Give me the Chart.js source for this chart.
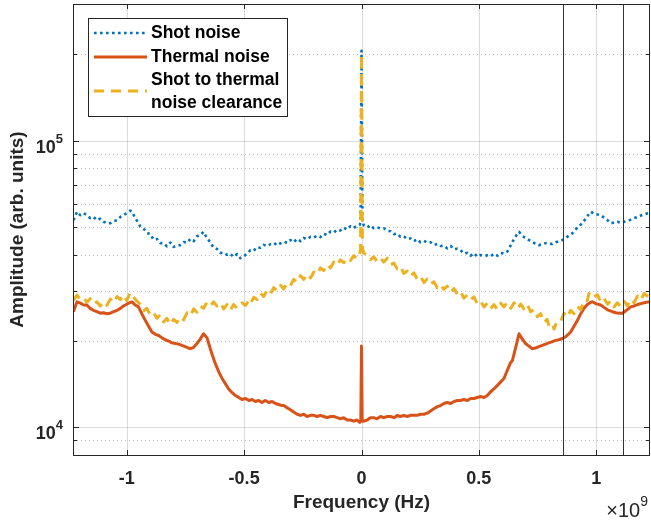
<!DOCTYPE html>
<html>
<head>
<meta charset="utf-8">
<script src="https://cdn.jsdelivr.net/npm/chart.js@4/dist/chart.umd.min.js"></script>
<style>
  body { margin: 0; background: #fff; }
  canvas { display: block; }
</style>
</head>
<body>
<canvas id="chart" width="651" height="523"></canvas>
<script>
// frequencies in units of 1e9 Hz, amplitudes in arb. units
const shotFreq = [-1.227,-1.212,-1.198,-1.184,-1.170,-1.156,-1.142,-1.127,-1.113,-1.099,-1.085,-1.070,-1.056,-1.041,-1.027,-1.014,-0.999,-0.985,-0.978,-0.964,
  -0.950,-0.942,-0.928,-0.914,-0.900,-0.886,-0.871,-0.857,-0.843,-0.829,-0.814,-0.800,-0.786,-0.772,-0.757,-0.743,-0.729,-0.715,-0.701,-0.687,
  -0.673,-0.658,-0.644,-0.630,-0.616,-0.601,-0.587,-0.573,-0.559,-0.545,-0.530,-0.516,-0.502,-0.487,-0.473,-0.459,-0.445,-0.431,-0.417,-0.402,
  -0.388,-0.374,-0.359,-0.345,-0.331,-0.317,-0.303,-0.289,-0.275,-0.260,-0.246,-0.232,-0.217,-0.203,-0.189,-0.175,-0.161,-0.146,-0.132,-0.118,
  -0.104,-0.090,-0.076,-0.061,-0.047,-0.033,-0.019,-0.008,-0.004,0,0.004,0.010,0.024,0.038,0.052,0.066,0.081,0.095,0.110,0.124,
  0.138,0.152,0.166,0.180,0.195,0.209,0.223,0.237,0.251,0.266,0.280,0.294,0.308,0.323,0.337,0.351,0.365,0.380,0.394,0.408,
  0.422,0.436,0.451,0.465,0.479,0.493,0.507,0.522,0.536,0.550,0.564,0.579,0.593,0.607,0.621,0.635,0.650,0.664,0.671,0.685,
  0.699,0.713,0.727,0.741,0.755,0.770,0.784,0.798,0.813,0.827,0.841,0.856,0.870,0.884,0.898,0.912,0.926,0.941,0.955,0.969,
  0.977,0.991,1.005,1.019,1.033,1.048,1.062,1.076,1.090,1.105,1.119,1.133,1.147,1.161,1.176,1.190,1.204,1.225];
const shotAmp = [52800,56500,55000,55900,55000,53700,54200,52800,53400,52100,51600,51500,52400,52800,54200,55000,55900,57000,56500,53700,
  51600,50100,49300,47600,47300,45200,45400,43900,43900,42800,44100,42600,43100,43200,44300,44100,45400,44600,46400,46800,
  48100,45700,44200,42300,41900,40600,40700,40000,40300,39300,40200,38900,39400,40400,41500,41300,42500,42300,43300,42900,
  43500,43200,44300,43800,44400,44000,45000,44200,45400,44600,45800,45300,46200,45900,46600,46100,47300,46900,48200,47800,
  48900,48600,49700,49000,50300,49600,50500,50800,52000,206000,52000,50600,49800,50700,49500,49900,49400,49500,48500,48300,
  47200,47400,46200,46400,45400,45600,44600,45300,44200,44700,44100,44200,43300,43600,42900,43000,42100,42900,41800,42000,
  41500,40400,40600,39700,40500,39400,39900,39600,39800,39500,40300,39700,40600,40400,41000,43000,45500,47300,48100,46500,
  45800,45000,44500,43600,43200,43500,43900,43800,43600,44200,44600,45000,45700,46700,47500,49000,50300,51500,53500,55500,
  56500,55500,55300,55000,53900,52800,51500,51800,52100,51700,52100,52600,53000,53700,54200,54800,55400,55900];

const thermalFreq = [-1.227,-1.212,-1.198,-1.184,-1.170,-1.156,-1.142,-1.127,-1.113,-1.099,-1.085,-1.070,-1.056,-1.041,-1.027,-1.014,-1.006,-0.992,-0.978,-0.964,
  -0.950,-0.935,-0.921,-0.907,-0.893,-0.878,-0.864,-0.850,-0.836,-0.822,-0.808,-0.793,-0.779,-0.765,-0.751,-0.737,-0.729,-0.715,-0.701,-0.687,
  -0.673,-0.658,-0.651,-0.637,-0.623,-0.608,-0.594,-0.580,-0.566,-0.551,-0.537,-0.523,-0.509,-0.494,-0.480,-0.466,-0.452,-0.438,-0.424,-0.410,
  -0.395,-0.381,-0.367,-0.353,-0.338,-0.331,-0.317,-0.303,-0.289,-0.274,-0.260,-0.246,-0.232,-0.217,-0.203,-0.189,-0.175,-0.161,-0.146,-0.132,
  -0.118,-0.104,-0.090,-0.076,-0.061,-0.047,-0.033,-0.019,-0.008,-0.003,0,0.003,0.010,0.024,0.038,0.052,0.066,0.081,0.095,0.110,
  0.124,0.138,0.152,0.166,0.180,0.195,0.209,0.223,0.237,0.251,0.266,0.280,0.294,0.308,0.323,0.337,0.351,0.365,0.380,0.394,
  0.408,0.422,0.436,0.451,0.465,0.479,0.493,0.507,0.522,0.536,0.550,0.564,0.579,0.593,0.607,0.621,0.635,0.643,0.657,0.671,
  0.685,0.699,0.713,0.727,0.741,0.755,0.770,0.784,0.798,0.813,0.827,0.841,0.856,0.870,0.884,0.891,0.905,0.920,0.934,0.948,
  0.962,0.977,0.984,0.998,1.019,1.033,1.048,1.069,1.083,1.098,1.112,1.126,1.147,1.161,1.176,1.190,1.204,1.225];
const thermalAmp = [25300,27400,27100,26700,26700,26000,25600,25300,25000,25100,24900,25000,25300,25600,26000,26500,26700,27100,27400,26700,
  26300,24800,23600,22500,21500,21100,20900,20500,20200,20000,19700,19600,19500,19300,19100,18900,18800,19000,19600,20300,
  21200,20500,19600,18000,16700,15600,14800,14200,13600,13200,12900,12700,12500,12600,12400,12500,12300,12400,12200,12400,
  12200,12300,12100,12000,11900,11900,11700,11500,11300,11100,11000,11100,10900,11000,11000,10900,11000,10900,10800,10900,
  10900,10800,10700,10800,10600,10600,10500,10600,10400,10500,19200,10500,10500,10600,10800,10800,10700,10900,10800,10900,
  10900,10800,11000,10900,11000,10900,11000,11000,11000,11100,11100,11200,11400,11600,11800,11900,12100,12200,12100,12300,
  12400,12400,12500,12400,12600,12600,12700,12800,12700,12900,13300,13600,14000,14400,14800,15800,16800,17100,19000,21200,
  20300,19600,19200,18800,18900,19100,19300,19500,19700,19900,20100,20200,20400,20700,21200,21500,22500,23600,24900,26000,
  26800,27300,27400,27000,26700,26200,25700,25300,25100,25000,25000,25500,26300,26500,26800,27000,27200,27400];

const clearFreq = [-1.227,-1.212,-1.198,-1.184,-1.170,-1.156,-1.142,-1.127,-1.113,-1.099,-1.085,-1.070,-1.056,-1.041,-1.027,-1.014,-1.000,-0.985,-0.971,-0.957,
  -0.942,-0.928,-0.914,-0.900,-0.886,-0.871,-0.857,-0.843,-0.829,-0.814,-0.800,-0.786,-0.772,-0.758,-0.743,-0.729,-0.715,-0.701,-0.687,-0.673,
  -0.658,-0.644,-0.630,-0.616,-0.601,-0.587,-0.573,-0.559,-0.545,-0.530,-0.509,-0.494,-0.480,-0.473,-0.459,-0.445,-0.431,-0.417,-0.402,-0.388,
  -0.374,-0.359,-0.345,-0.331,-0.317,-0.303,-0.289,-0.274,-0.260,-0.246,-0.232,-0.217,-0.203,-0.189,-0.175,-0.161,-0.146,-0.132,-0.118,-0.104,
  -0.090,-0.076,-0.061,-0.047,-0.033,-0.019,-0.008,-0.004,0,0.004,0.010,0.024,0.038,0.052,0.066,0.081,0.095,0.110,0.124,0.138,
  0.152,0.166,0.180,0.195,0.209,0.223,0.237,0.251,0.266,0.280,0.294,0.308,0.323,0.337,0.351,0.365,0.380,0.394,0.408,0.422,
  0.436,0.451,0.465,0.479,0.493,0.507,0.522,0.536,0.550,0.564,0.579,0.593,0.607,0.621,0.636,0.650,0.664,0.678,0.692,0.706,
  0.720,0.735,0.749,0.763,0.777,0.791,0.799,0.813,0.820,0.834,0.849,0.863,0.877,0.891,0.905,0.920,0.934,0.948,0.962,0.969,
  0.983,1.005,1.019,1.033,1.048,1.062,1.076,1.090,1.105,1.119,1.133,1.147,1.161,1.176,1.190,1.204,1.225];
const clearAmp = [27800,28900,27900,28300,27300,28100,26900,27400,26500,27400,26600,28000,27200,28600,27900,29000,27700,29500,28400,27600,
  26800,25500,26000,24600,25100,24000,24700,23300,24000,22800,23800,23200,24300,23700,25100,24500,25900,25200,26500,26000,
  27300,26500,27400,26500,27200,25900,26800,25600,26800,26000,27200,26600,27700,27000,28400,27900,29400,28600,30100,29200,
  30700,29900,31300,30400,31900,31200,32800,32000,33800,32800,34300,33200,34800,34100,36000,35200,37000,36000,37700,36700,
  38400,37500,39000,38200,39700,38700,39800,42000,200000,42000,40500,39900,38400,39400,37900,39000,37700,38900,36900,37400,
  35700,36400,34400,35100,33600,34600,32900,33700,32000,32900,31600,32200,30700,31500,30300,31100,29500,30500,29100,29800,
  28200,29000,27900,28500,27000,27600,26300,27100,25900,26800,25800,27100,26300,27300,26000,27200,25900,26900,25900,26900,
  25300,25800,24300,24900,23200,23800,22500,23000,22000,23600,23500,25000,24200,25600,24900,26400,25700,27900,27700,29300,
  28200,29000,27400,28200,26900,27600,26300,27200,26300,27500,26500,28000,27200,28700,27800,29300,28400];

const xTicks = [-1, -0.5, 0, 0.5, 1];
const yMajor = [1e4, 1e5];
const yMinor = [9000, 20000, 30000, 40000, 50000, 60000, 70000, 80000, 90000, 200000];
const markerLines = [0.858, 1.113];
const seriesNames = ['Shot noise', 'Thermal noise', ['Shot to thermal', 'noise clearance']];

const AX = '#262626';
const FONT = '"Liberation Sans", Arial, Helvetica, sans-serif';

function pts(fx, fy) {
  return fx.map((f, i) => ({ x: f, y: fy[i] }));
}

const matlabAxes = {
  id: 'matlabAxes',
  beforeDatasetsDraw(chart) {
    const { ctx, chartArea: a, scales: { x, y } } = chart;
    ctx.save();
    ctx.lineWidth = 1;
    // major grid
    ctx.strokeStyle = 'rgba(0,0,0,0.14)';
    ctx.setLineDash([]);
    xTicks.forEach(v => {
      const px = Math.round(x.getPixelForValue(v)) + 0.5;
      ctx.beginPath(); ctx.moveTo(px, a.top); ctx.lineTo(px, a.bottom); ctx.stroke();
    });
    yMajor.forEach(v => {
      const py = Math.round(y.getPixelForValue(v)) + 0.5;
      ctx.beginPath(); ctx.moveTo(a.left, py); ctx.lineTo(a.right, py); ctx.stroke();
    });
    // minor grid, dotted
    ctx.strokeStyle = 'rgba(0,0,0,0.25)';
    ctx.setLineDash([1, 3]);
    yMinor.forEach(v => {
      const py = Math.round(y.getPixelForValue(v)) + 0.5;
      ctx.beginPath(); ctx.moveTo(a.left, py); ctx.lineTo(a.right, py); ctx.stroke();
    });
    ctx.restore();
  },
  afterDatasetsDraw(chart) {
    const { ctx, chartArea: a, scales: { x, y } } = chart;
    ctx.save();
    // vertical marker lines
    ctx.strokeStyle = '#333';
    ctx.lineWidth = 1;
    markerLines.forEach(v => {
      const px = Math.round(x.getPixelForValue(v)) + 0.5;
      ctx.beginPath(); ctx.moveTo(px, a.top); ctx.lineTo(px, a.bottom); ctx.stroke();
    });
    // box
    ctx.strokeStyle = AX;
    ctx.strokeRect(Math.round(a.left) + 0.5, Math.round(a.top) + 0.5,
      Math.round(a.right - a.left) - 1, Math.round(a.bottom - a.top));
    // ticks
    ctx.beginPath();
    xTicks.forEach(v => {
      const px = Math.round(x.getPixelForValue(v)) + 0.5;
      ctx.moveTo(px, a.bottom); ctx.lineTo(px, a.bottom - 5);
      ctx.moveTo(px, a.top); ctx.lineTo(px, a.top + 5);
    });
    yMajor.concat(yMinor).forEach(v => {
      const py = Math.round(y.getPixelForValue(v)) + 0.5;
      const len = yMajor.includes(v) ? 6 : 4;
      ctx.moveTo(a.left, py); ctx.lineTo(a.left + len, py);
      ctx.moveTo(a.right, py); ctx.lineTo(a.right - len, py);
    });
    ctx.stroke();

    // y tick labels 10^n
    ctx.fillStyle = AX;
    yMajor.forEach(v => {
      const py = y.getPixelForValue(v);
      const exp = String(Math.round(Math.log10(v)));
      ctx.font = 'bold 13px ' + FONT;
      const ew = ctx.measureText(exp).width;
      ctx.textBaseline = 'alphabetic';
      ctx.textAlign = 'left';
      const ex = a.left - 10 - ew;
      ctx.fillText(exp, ex, py + 2);
      ctx.font = 'bold 18px ' + FONT;
      ctx.textAlign = 'right';
      ctx.fillText('10', ex, py + 12);
    });

    // x exponent label
    ctx.textAlign = 'right';
    ctx.textBaseline = 'alphabetic';
    ctx.font = '14px ' + FONT;
    const nw = ctx.measureText('9').width;
    ctx.fillText('9', a.right - 2, 506);
    ctx.font = '20px ' + FONT;
    ctx.fillText('\u00d710', a.right - 2 - nw, 517);

    // legend
    const lx = 88.5, ly = 18.5, lw = 199, lh = 98;
    ctx.fillStyle = '#fff';
    ctx.fillRect(lx, ly, lw, lh);
    ctx.strokeStyle = AX;
    ctx.lineWidth = 1;
    ctx.strokeRect(lx, ly, lw, lh);
    const sets = chart.data.datasets;
    const rows = [{ y: 33, ty: [33] }, { y: 57, ty: [57] }, { y: 91, ty: [80, 103] }];
    rows.forEach((r, i) => {
      const ds = sets[i];
      ctx.strokeStyle = ds.borderColor;
      ctx.lineWidth = ds.borderWidth;
      ctx.setLineDash(ds.borderDash || []);
      ctx.beginPath(); ctx.moveTo(94, r.y); ctx.lineTo(147, r.y); ctx.stroke();
      ctx.setLineDash([]);
      ctx.fillStyle = '#000';
      ctx.font = 'bold 17.5px ' + FONT;
      ctx.textAlign = 'left';
      ctx.textBaseline = 'middle';
      const lines = [].concat(seriesNames[i]);
      lines.forEach((t, k) => ctx.fillText(t, 151, r.ty[k]));
    });
    ctx.restore();
  }
};

new Chart(document.getElementById('chart').getContext('2d'), {
  type: 'line',
  data: {
    datasets: [
      { label: 'Shot noise', data: pts(shotFreq, shotAmp), borderColor: '#0072BD', borderWidth: 2.6,
        borderDash: [2.6, 3.4], order: 2 },
      { label: 'Thermal noise', data: pts(thermalFreq, thermalAmp), borderColor: '#D95319', borderWidth: 3,
        order: 1 },
      { label: 'Shot to thermal noise clearance', data: pts(clearFreq, clearAmp), borderColor: '#EDB120',
        borderWidth: 3, borderDash: [10, 7], order: 0 }
    ]
  },
  options: {
    responsive: false,
    animation: false,
    elements: { point: { radius: 0 }, line: { tension: 0, borderJoinStyle: 'round' } },
    layout: { padding: { left: 0, right: 1, top: 4, bottom: 0 } },
    plugins: { legend: { display: false }, tooltip: { enabled: false } },
    scales: {
      x: {
        type: 'linear',
        min: -1.229,
        max: 1.229,
        afterBuildTicks: s => { s.ticks = xTicks.map(v => ({ value: v })); },
        afterFit: s => { s.height = 68; },
        grid: { display: false, drawTicks: false },
        border: { display: false },
        ticks: {
          color: AX,
          font: { family: FONT, size: 18, weight: 'bold' },
          padding: 13,
          maxRotation: 0,
          callback: v => String(v)
        },
        title: {
          display: true,
          text: 'Frequency (Hz)',
          color: AX,
          font: { family: FONT, size: 19, weight: 'bold' },
          padding: { top: 0, bottom: 9 }
        }
      },
      y: {
        type: 'logarithmic',
        min: 8000,
        max: 300000,
        afterBuildTicks: s => { s.ticks = yMajor.concat(yMinor).sort((p, q) => p - q).map(v => ({ value: v })); },
        afterFit: s => { s.width = 73; },
        grid: { display: false, drawTicks: false },
        border: { display: false },
        ticks: { display: false },
        title: {
          display: true,
          text: 'Amplitude (arb. units)',
          color: AX,
          font: { family: FONT, size: 19, weight: 'bold' },
          padding: { top: 6, bottom: 0 }
        }
      }
    }
  },
  plugins: [matlabAxes]
});
</script>
</body>
</html>
